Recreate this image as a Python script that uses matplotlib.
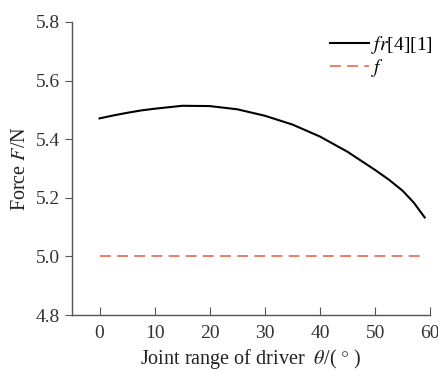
import matplotlib
matplotlib.use("Agg")
import matplotlib.pyplot as plt

# Datos
theta = [0, 2.5, 5, 7.5, 10, 15, 20, 25, 30, 35, 40, 45, 50, 52.5, 55, 57, 59]
fr41 = [5.471, 5.481, 5.490, 5.498, 5.504, 5.514, 5.513, 5.502, 5.480, 5.450,
        5.409, 5.357, 5.295, 5.262, 5.224, 5.184, 5.133]
f_theta = [0, 59]
f_val = [5.0, 5.0]

plt.rcParams['font.family'] = ['Liberation Serif', 'DejaVu Serif']
plt.rcParams['mathtext.fontset'] = 'stix'

fig, ax = plt.subplots(figsize=(4.39, 3.72), dpi=100)
fig.subplots_adjust(left=0.164, right=0.98, top=0.941, bottom=0.153)

ax.plot(theta, fr41, color='black', linewidth=1.5, label=r'$fr$[4][1]')
ax.plot(f_theta, f_val, color='#e8735a', linewidth=1.3, dashes=(6, 3.5), label=r'$f$')

ax.set_xlim(-5, 60)
ax.set_ylim(4.8, 5.8)
ax.set_xticks(range(0, 61, 10))
ax.set_yticks([4.8, 5.0, 5.2, 5.4, 5.6, 5.8])
ax.set_yticklabels(['4.8', '5.0', '5.2', '5.4', '5.6', '5.8'])

for s in ['top', 'right']:
    ax.spines[s].set_visible(False)
for s in ['left', 'bottom']:
    ax.spines[s].set_color('#555555')
    ax.spines[s].set_linewidth(1.0)

ax.tick_params(axis='y', direction='out', length=5, color='#555555', labelsize=14, labelcolor='#333333')
ax.tick_params(axis='x', direction='in', length=6, color='#555555', labelsize=14, labelcolor='#333333', pad=7)

ax.set_xlabel(r'Joint range of driver  $\theta$/( $\degree$ )', fontsize=14.5, color='#222222', labelpad=4)
ax.set_ylabel(r'Force $F$/N', fontsize=14.5, color='#222222', labelpad=4)

ax.legend(loc='upper right', bbox_to_anchor=(1.04, 1.0), frameon=False, fontsize=14,
          handlelength=2.0, handletextpad=0.1, labelspacing=0.05, borderaxespad=0.2)

fig.savefig('out.png', dpi=100)
